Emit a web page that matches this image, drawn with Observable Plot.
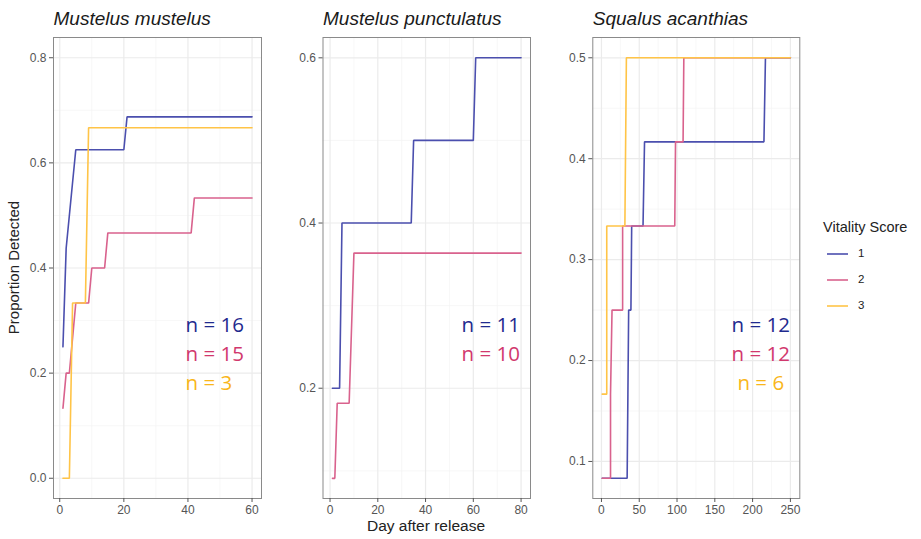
<!DOCTYPE html>
<html><head><meta charset="utf-8">
<script src="https://cdn.jsdelivr.net/npm/d3@7"></script>
<script src="https://cdn.jsdelivr.net/npm/@observablehq/plot@0.6"></script>
<style>
body{margin:0;background:#fff;}
#chart{position:relative;width:921px;height:539px;font-family:"Liberation Sans",Arial,sans-serif;background:#fff;}
#chart svg{position:absolute;top:0;}
</style></head><body><div id="chart"></div>
<script>
// ---- data ----
const vitalityScores = ["1", "2", "3"];
const lineColors = ["#4b4fae", "#d9628d", "#ffc447"];
const labelColors = ["#1f2a8e", "#d1386d", "#f9b61a"];
const speciesNames = ["Mustelus mustelus", "Mustelus punctulatus", "Squalus acanthias"];
const xAxisTitle = "Day after release";
const yAxisTitle = "Proportion Detected";
const legendTitle = "Vitality Score";

// Mustelus mustelus
const mmDay1 = [1, 2, 5, 20, 21, 60];
const mmProp1 = [0.25, 0.4375, 0.625, 0.625, 0.6875, 0.6875];
const mmDay2 = [1, 2, 3, 5, 9, 10, 14, 15, 41, 42, 60];
const mmProp2 = [0.1333, 0.2, 0.2, 0.3333, 0.3333, 0.4, 0.4, 0.4667, 0.4667, 0.5333, 0.5333];
const mmDay3 = [1, 3, 4, 8, 9, 60];
const mmProp3 = [0, 0, 0.3333, 0.3333, 0.6667, 0.6667];
const mmN = ["n = 16", "n = 15", "n = 3"];

// Mustelus punctulatus
const mpDay1 = [1, 4, 5, 34, 35, 60, 61, 80];
const mpProp1 = [0.2, 0.2, 0.4, 0.4, 0.5, 0.5, 0.6, 0.6];
const mpDay2 = [1, 2, 3, 8, 10, 80];
const mpProp2 = [0.0909, 0.0909, 0.1818, 0.1818, 0.3636, 0.3636];
const mpN = ["n = 11", "n = 10"];

// Squalus acanthias
const saDay1 = [1, 34, 35, 36, 39, 40, 55, 57, 215, 217, 250];
const saProp1 = [0.0833, 0.0833, 0.1667, 0.25, 0.25, 0.3333, 0.3333, 0.4167, 0.4167, 0.5, 0.5];
const saDay2 = [1, 12, 12, 14, 28, 28, 97, 98, 108, 109, 250];
const saProp2 = [0.0833, 0.0833, 0.1667, 0.25, 0.25, 0.3333, 0.3333, 0.4167, 0.4167, 0.5, 0.5];
const saDay3 = [1, 7, 7, 31, 33, 250];
const saProp3 = [0.1667, 0.1667, 0.3333, 0.3333, 0.5, 0.5];
const saN = ["n = 12", "n = 12", "n = 6"];

// tick values
const mmXTicks = [0, 20, 40, 60], mmXMinor = [10, 30, 50];
const mmYTicks = [0, 0.2, 0.4, 0.6, 0.8], mmYMinor = [0.1, 0.3, 0.5, 0.7];
const mpXTicks = [0, 20, 40, 60, 80], mpXMinor = [10, 30, 50, 70];
const mpYTicks = [0.2, 0.4, 0.6], mpYMinor = [0.1, 0.3, 0.5];
const saXTicks = [0, 50, 100, 150, 200, 250], saXMinor = [25, 75, 125, 175, 225];
const saYTicks = [0.1, 0.2, 0.3, 0.4, 0.5], saYMinor = [0.15, 0.25, 0.35, 0.45];

// ---- build ----
function rows(days, props, score) {
  return days.map((d, i) => ({day: d, prop: props[i], score}));
}
const chart = document.getElementById("chart");

function panel(o) {
  const data = o.series.flat();
  const nMarks = o.nLabels.map((lab, i) =>
    Plot.text([lab], {frameAnchor: o.nAnchor, dx: o.nDx, dy: o.nDy + i * 29, text: d => d,
      textAnchor: o.nTextAnchor, lineAnchor: "middle", fontSize: 20.5, fontFamily: "'Open Sans', sans-serif",
      fill: labelColors[i]}));
  const svg = Plot.plot({
    width: o.width, height: 539,
    marginLeft: o.ml, marginRight: o.mr, marginTop: 37, marginBottom: 41,
    style: {background: "transparent", fontFamily: "'Liberation Sans', Arial, sans-serif", overflow: "visible"},
    x: {domain: o.xDomain},
    y: {domain: o.yDomain},
    color: {domain: vitalityScores, range: lineColors},
    marks: [
      Plot.gridX(o.xMinor, {stroke: "#f3f3f3", strokeOpacity: 1, strokeWidth: 0.7}),
      Plot.gridY(o.yMinor, {stroke: "#f3f3f3", strokeOpacity: 1, strokeWidth: 0.7}),
      Plot.gridX(o.xTicks, {stroke: "#ebebeb", strokeOpacity: 1, strokeWidth: 1.2}),
      Plot.gridY(o.yTicks, {stroke: "#ebebeb", strokeOpacity: 1, strokeWidth: 1.2}),
      Plot.line(data, {x: "day", y: "prop", z: "score", stroke: "score", strokeWidth: 1.6, strokeLinejoin: "miter"}),
      Plot.frame({stroke: "#8a8a8a", strokeWidth: 1}),
      Plot.axisX(o.xTicks, {tickSize: 4, tickPadding: 3, fontSize: 12, color: "#555", label: null}),
      Plot.axisY(o.yTicks, {tickSize: 4, tickPadding: 3, fontSize: 12, color: "#555", label: null, tickFormat: d3.format(".1f")}),
      Plot.text([o.title], {frameAnchor: "top-left", dy: -19, dx: 0, text: d => d, textAnchor: "start",
        lineAnchor: "middle", fontStyle: "italic", fontSize: 19, fill: "#1a1a1a"}),
      ...nMarks
    ]
  });
  svg.style.left = o.left + "px";
  chart.appendChild(svg);
}

panel({
  left: 0, width: 266, ml: 53, mr: 5,
  xDomain: [-1.95, 62.95], yDomain: [-0.0385, 0.8385],
  xTicks: mmXTicks, xMinor: mmXMinor, yTicks: mmYTicks, yMinor: mmYMinor,
  series: [rows(mmDay1, mmProp1, "1"), rows(mmDay2, mmProp2, "2"), rows(mmDay3, mmProp3, "3")],
  title: speciesNames[0], nLabels: mmN, nAnchor: "top-left", nDx: 132, nDy: 288, nTextAnchor: "start"
});
panel({
  left: 280, width: 255, ml: 42.5, mr: 5,
  xDomain: [-2.95, 83.95], yDomain: [0.0665, 0.6246],
  xTicks: mpXTicks, xMinor: mpXMinor, yTicks: mpYTicks, yMinor: mpYMinor,
  series: [rows(mpDay1, mpProp1, "1"), rows(mpDay2, mpProp2, "2")],
  title: speciesNames[1], nLabels: mpN, nAnchor: "top-right", nDx: -10.5, nDy: 288, nTextAnchor: "end"
});
panel({
  left: 550, width: 255, ml: 42.3, mr: 5.7,
  xDomain: [-11.45, 262.45], yDomain: [0.0633, 0.5201],
  xTicks: saXTicks, xMinor: saXMinor, yTicks: saYTicks, yMinor: saYMinor,
  series: [rows(saDay1, saProp1, "1"), rows(saDay2, saProp2, "2"), rows(saDay3, saProp3, "3")],
  title: speciesNames[2], nLabels: saN, nAnchor: "top-right", nDx: -39, nDy: 288, nTextAnchor: "middle"
});

// overlay: axis titles and legend
const ov = d3.select(chart).append("svg").attr("width", 921).attr("height", 539).style("left", "0px")
  .style("font-family", "'Liberation Sans', Arial, sans-serif").style("pointer-events", "none");
ov.append("text").attr("x", 426).attr("y", 527).attr("text-anchor", "middle").attr("dominant-baseline", "middle")
  .attr("font-size", 15.5).attr("fill", "#222").text(xAxisTitle);
ov.append("text").attr("transform", "translate(15,267.5) rotate(-90)").attr("text-anchor", "middle")
  .attr("dominant-baseline", "middle").attr("font-size", 15).attr("fill", "#222").text(yAxisTitle);
ov.append("text").attr("x", 823).attr("y", 228).attr("dominant-baseline", "middle")
  .attr("font-size", 14.5).attr("fill", "#222").text(legendTitle);
const lg = ov.selectAll("g.item").data(vitalityScores).join("g")
  .attr("transform", (d, i) => `translate(0,${254 + i * 26})`);
lg.append("line").attr("x1", 827).attr("x2", 848).attr("y1", 0).attr("y2", 0)
  .attr("stroke", (d, i) => lineColors[i]).attr("stroke-width", 1.6);
lg.append("text").attr("x", 858).attr("y", 0).attr("dominant-baseline", "middle")
  .attr("font-size", 11.5).attr("fill", "#222").text(d => d);
</script></body></html>
